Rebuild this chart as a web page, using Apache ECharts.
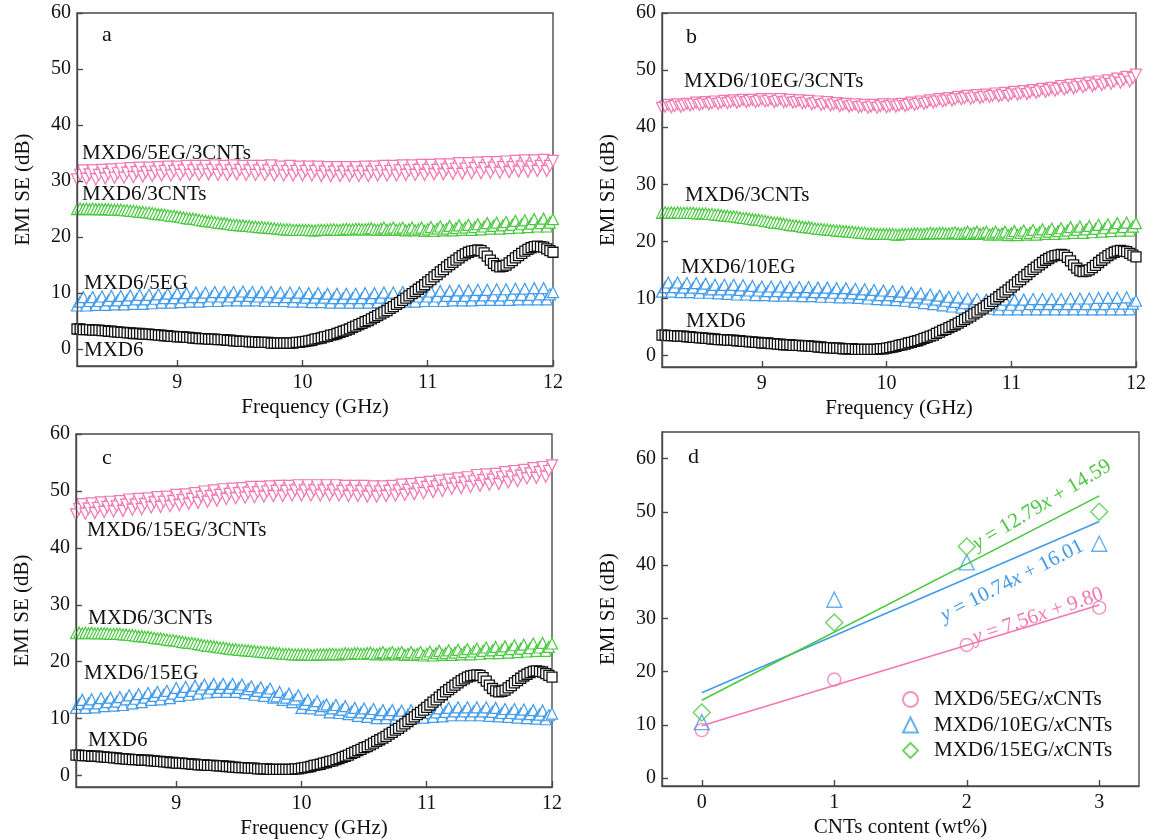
<!DOCTYPE html>
<html>
<head>
    <meta charset="utf-8">
    <style>
        html, body { margin: 0; padding: 0; background: #fff; }
        #chart-panel { width: 1149px; height: 840px; }
    </style>
    <script src="https://cdn.jsdelivr.net/npm/echarts@6/dist/echarts.min.js"></script>
</head>
<body>
<div id="chart-panel"></div>
<script type="text/javascript">
// frequency points (GHz), 8.2 - 12.0, one row = 0.2 GHz
var freq = [
  8.200, 8.225, 8.250, 8.275, 8.300, 8.325, 8.350, 8.375,
  8.400, 8.425, 8.450, 8.475, 8.500, 8.525, 8.550, 8.575,
  8.600, 8.625, 8.650, 8.675, 8.700, 8.725, 8.750, 8.775,
  8.800, 8.825, 8.850, 8.875, 8.900, 8.925, 8.950, 8.975,
  9.000, 9.025, 9.050, 9.075, 9.100, 9.125, 9.150, 9.175,
  9.200, 9.225, 9.250, 9.275, 9.300, 9.325, 9.350, 9.375,
  9.400, 9.425, 9.450, 9.475, 9.500, 9.525, 9.550, 9.575,
  9.600, 9.625, 9.650, 9.675, 9.700, 9.725, 9.750, 9.775,
  9.800, 9.825, 9.850, 9.875, 9.900, 9.925, 9.950, 9.975,
  10.000, 10.025, 10.050, 10.075, 10.100, 10.125, 10.150, 10.175,
  10.200, 10.225, 10.250, 10.275, 10.300, 10.325, 10.350, 10.375,
  10.400, 10.425, 10.450, 10.475, 10.500, 10.525, 10.550, 10.575,
  10.600, 10.625, 10.650, 10.675, 10.700, 10.725, 10.750, 10.775,
  10.800, 10.825, 10.850, 10.875, 10.900, 10.925, 10.950, 10.975,
  11.000, 11.025, 11.050, 11.075, 11.100, 11.125, 11.150, 11.175,
  11.200, 11.225, 11.250, 11.275, 11.300, 11.325, 11.350, 11.375,
  11.400, 11.425, 11.450, 11.475, 11.500, 11.525, 11.550, 11.575,
  11.600, 11.625, 11.650, 11.675, 11.700, 11.725, 11.750, 11.775,
  11.800, 11.825, 11.850, 11.875, 11.900, 11.925, 11.950, 11.975,
  12.000];

// MXD6 (same curve in a, b, c)
var seMXD6 = [
  3.6, 3.6, 3.5, 3.5, 3.5, 3.4, 3.4, 3.4,
  3.3, 3.3, 3.2, 3.2, 3.1, 3.1, 3.0, 3.0,
  2.9, 2.9, 2.8, 2.8, 2.8, 2.7, 2.7, 2.7,
  2.6, 2.6, 2.5, 2.5, 2.4, 2.4, 2.3, 2.3,
  2.2, 2.2, 2.2, 2.1, 2.1, 2.0, 2.0, 1.9,
  1.9, 1.9, 1.8, 1.8, 1.8, 1.7, 1.7, 1.7,
  1.6, 1.6, 1.5, 1.5, 1.4, 1.4, 1.4, 1.3,
  1.3, 1.3, 1.2, 1.2, 1.2, 1.2, 1.1, 1.1,
  1.1, 1.1, 1.1, 1.1, 1.1, 1.1, 1.2, 1.2,
  1.3, 1.4, 1.5, 1.6, 1.8, 1.9, 2.0, 2.2,
  2.3, 2.5, 2.6, 2.8, 3.0, 3.2, 3.4, 3.6,
  3.9, 4.1, 4.4, 4.6, 4.9, 5.1, 5.4, 5.7,
  6.0, 6.3, 6.6, 6.9, 7.3, 7.6, 8.0, 8.3,
  8.7, 9.1, 9.5, 9.9, 10.3, 10.7, 11.1, 11.5,
  12.0, 12.4, 12.9, 13.3, 13.8, 14.2, 14.7, 15.1,
  15.5, 15.9, 16.3, 16.7, 17.0, 17.3, 17.5, 17.6,
  17.7, 17.6, 17.2, 16.6, 15.9, 15.3, 14.9, 14.7,
  14.8, 15.0, 15.4, 15.8, 16.3, 16.7, 17.1, 17.5,
  17.8, 18.1, 18.3, 18.4, 18.3, 18.2, 17.9, 17.6,
  17.3];

// MXD6/3CNTs (same curve in a, b, c)
var se3CNTs = [
  25.0, 25.1, 25.0, 25.1, 25.0, 25.1, 25.0, 25.0,
  25.0, 25.0, 25.0, 24.9, 24.9, 24.9, 24.9, 24.8,
  24.8, 24.7, 24.7, 24.6, 24.5, 24.5, 24.4, 24.4,
  24.3, 24.2, 24.1, 24.1, 24.0, 23.9, 23.8, 23.8,
  23.7, 23.6, 23.5, 23.4, 23.3, 23.3, 23.2, 23.1,
  23.0, 22.9, 22.8, 22.8, 22.7, 22.6, 22.5, 22.5,
  22.4, 22.3, 22.2, 22.2, 22.1, 22.1, 22.0, 22.0,
  21.9, 21.9, 21.8, 21.8, 21.7, 21.7, 21.6, 21.6,
  21.5, 21.5, 21.4, 21.4, 21.4, 21.3, 21.3, 21.3,
  21.3, 21.3, 21.3, 21.2, 21.2, 21.3, 21.3, 21.3,
  21.3, 21.4, 21.4, 21.3, 21.3, 21.4, 21.5, 21.4,
  21.4, 21.5, 21.5, 21.4, 21.4, 21.5, 21.6, 21.4,
  21.3, 21.5, 21.7, 21.3, 21.5, 21.7, 21.3, 21.5,
  21.7, 21.2, 21.4, 21.7, 21.2, 21.4, 21.7, 21.1,
  21.4, 21.8, 21.1, 21.5, 21.9, 21.2, 21.5, 22.0,
  21.2, 21.6, 22.1, 21.3, 21.7, 22.2, 21.3, 21.8,
  22.3, 21.4, 21.9, 22.5, 21.5, 22.0, 22.6, 21.5,
  22.1, 22.7, 21.6, 22.2, 22.9, 21.7, 22.3, 23.0,
  21.8, 22.4, 23.2, 21.9, 22.5, 23.3, 21.9, 22.6,
  23.2];

// panel a
var se5EG = [
  7.8, 8.5, 9.3, 7.8, 8.6, 9.3, 7.9, 8.6,
  9.4, 7.9, 8.7, 9.5, 8.0, 8.7, 9.5, 8.0,
  8.8, 9.6, 8.1, 8.9, 9.7, 8.1, 8.9, 9.7,
  8.2, 9.0, 9.8, 8.3, 9.1, 9.9, 8.3, 9.1,
  10.0, 8.4, 9.2, 10.0, 8.5, 9.3, 10.1, 8.5,
  9.3, 10.1, 8.6, 9.4, 10.2, 8.6, 9.4, 10.2,
  8.7, 9.4, 10.2, 8.7, 9.5, 10.3, 8.7, 9.5,
  10.2, 8.7, 9.4, 10.2, 8.6, 9.4, 10.2, 8.6,
  9.3, 10.1, 8.6, 9.3, 10.1, 8.5, 9.3, 10.1,
  8.5, 9.2, 10.0, 8.4, 9.2, 10.0, 8.4, 9.2,
  9.9, 8.3, 9.1, 9.9, 8.3, 9.1, 9.9, 8.3,
  9.1, 9.9, 8.3, 9.1, 10.0, 8.3, 9.1, 10.0,
  8.4, 9.2, 10.1, 8.4, 9.2, 10.1, 8.4, 9.3,
  10.2, 8.5, 9.3, 10.2, 8.5, 9.4, 10.3, 8.6,
  9.4, 10.3, 8.6, 9.4, 10.4, 8.6, 9.5, 10.4,
  8.7, 9.5, 10.5, 8.7, 9.5, 10.5, 8.7, 9.6,
  10.6, 8.8, 9.6, 10.6, 8.8, 9.6, 10.7, 8.8,
  9.6, 10.7, 8.8, 9.7, 10.8, 8.9, 9.7, 10.8,
  8.9, 9.7, 10.9, 8.9, 9.8, 10.9, 8.9, 9.8,
  10.2];
var se5EG3CNTs = [
  30.3, 31.1, 31.9, 30.4, 31.2, 31.9, 30.3, 31.1,
  32.0, 30.5, 31.3, 32.1, 30.6, 31.4, 32.2, 30.6,
  31.5, 32.3, 30.7, 31.6, 32.4, 30.8, 31.6, 32.4,
  30.9, 31.7, 32.5, 31.0, 31.8, 32.6, 31.0, 31.8,
  32.6, 31.1, 31.9, 32.7, 31.1, 31.9, 32.7, 31.1,
  31.9, 32.7, 31.2, 32.0, 32.8, 31.1, 31.9, 32.7,
  31.1, 31.9, 32.8, 31.2, 32.0, 32.7, 31.1, 31.9,
  32.7, 31.1, 31.9, 32.7, 31.1, 31.9, 32.8, 31.0,
  31.8, 32.6, 31.0, 31.8, 32.7, 31.0, 31.8, 32.6,
  31.0, 31.8, 32.6, 31.0, 31.8, 32.6, 30.9, 31.7,
  32.5, 30.9, 31.7, 32.5, 30.9, 31.7, 32.5, 30.9,
  31.7, 32.5, 30.9, 31.7, 32.6, 30.9, 31.7, 32.6,
  31.0, 31.8, 32.7, 31.0, 31.8, 32.7, 31.0, 31.9,
  32.8, 31.1, 31.9, 32.8, 31.1, 32.0, 32.9, 31.1,
  32.0, 32.9, 31.2, 32.0, 33.0, 31.2, 32.1, 33.0,
  31.3, 32.2, 33.2, 31.3, 32.2, 33.2, 31.4, 32.3,
  33.3, 31.4, 32.3, 33.4, 31.5, 32.4, 33.4, 31.5,
  32.5, 33.5, 31.6, 32.5, 33.6, 31.7, 32.6, 33.7,
  31.7, 32.6, 33.7, 31.8, 32.7, 33.8, 31.8, 32.7,
  33.6];

// panel b
var se10EG = [
  11.2, 12.0, 12.8, 11.2, 12.0, 12.8, 11.1, 11.9,
  12.7, 11.1, 11.9, 12.7, 11.0, 11.8, 12.6, 11.0,
  11.6, 12.4, 10.9, 11.6, 12.4, 10.8, 11.6, 12.4,
  10.7, 11.5, 12.3, 10.7, 11.4, 12.2, 10.6, 11.4,
  12.1, 10.6, 11.3, 12.1, 10.5, 11.3, 12.1, 10.5,
  11.2, 12.0, 10.5, 11.2, 12.0, 10.4, 11.2, 12.0,
  10.4, 11.1, 11.9, 10.3, 11.1, 11.9, 10.3, 11.0,
  11.8, 10.2, 11.0, 11.8, 10.2, 10.9, 11.7, 10.1,
  10.8, 11.6, 10.0, 10.7, 11.5, 9.9, 10.6, 11.4,
  9.8, 10.6, 11.3, 9.7, 10.4, 11.2, 9.6, 10.3,
  11.0, 9.4, 10.2, 10.9, 9.2, 10.0, 10.7, 9.0,
  9.8, 10.5, 8.8, 9.6, 10.3, 8.6, 9.4, 10.2,
  8.4, 9.2, 10.0, 8.3, 9.1, 9.9, 8.2, 9.0,
  9.8, 8.2, 9.0, 9.8, 8.1, 8.9, 9.8, 8.1,
  8.9, 9.8, 8.1, 8.9, 9.8, 8.1, 9.0, 9.9,
  8.1, 9.0, 9.9, 8.1, 9.0, 9.9, 8.1, 9.0,
  9.9, 8.1, 9.0, 10.0, 8.1, 9.0, 10.0, 8.1,
  9.0, 10.0, 8.1, 9.0, 10.1, 8.1, 9.0, 10.1,
  8.1, 9.1, 10.1, 8.1, 9.1, 10.2, 8.1, 9.1,
  9.6];
var se10EG3CNTs = [
  43.4, 43.6, 43.9, 43.5, 43.7, 44.0, 43.6, 43.8,
  44.1, 43.8, 44.0, 44.3, 43.9, 44.1, 44.4, 44.0,
  44.2, 44.5, 44.1, 44.3, 44.6, 44.2, 44.4, 44.7,
  44.3, 44.5, 44.8, 44.4, 44.6, 44.8, 44.4, 44.6,
  44.9, 44.5, 44.6, 44.9, 44.4, 44.6, 44.9, 44.4,
  44.5, 44.8, 44.3, 44.4, 44.7, 44.2, 44.3, 44.6,
  44.0, 44.2, 44.5, 43.9, 44.1, 44.4, 43.8, 44.0,
  44.2, 43.7, 43.9, 44.1, 43.6, 43.8, 44.0, 43.5,
  43.6, 43.9, 43.4, 43.6, 43.9, 43.4, 43.7, 44.0,
  43.5, 43.7, 44.0, 43.6, 43.8, 44.1, 43.7, 43.9,
  44.3, 43.9, 44.1, 44.5, 44.1, 44.3, 44.7, 44.3,
  44.5, 44.9, 44.5, 44.7, 45.1, 44.7, 44.9, 45.3,
  44.9, 45.1, 45.5, 45.0, 45.2, 45.6, 45.1, 45.3,
  45.7, 45.3, 45.5, 45.9, 45.4, 45.6, 46.0, 45.5,
  45.8, 46.2, 45.7, 45.9, 46.3, 45.8, 46.1, 46.5,
  46.0, 46.3, 46.7, 46.2, 46.5, 46.9, 46.4, 46.7,
  47.2, 46.6, 46.9, 47.4, 46.8, 47.1, 47.6, 47.0,
  47.3, 47.8, 47.2, 47.5, 48.0, 47.4, 47.7, 48.2,
  47.6, 48.0, 48.5, 47.8, 48.3, 48.8, 48.0, 48.6,
  49.2];

// panel c
var se15EG = [
  11.9, 12.6, 13.3, 11.9, 12.7, 13.4, 12.0, 12.7,
  13.6, 12.2, 12.9, 13.7, 12.3, 13.0, 13.8, 12.4,
  13.4, 14.1, 12.7, 13.5, 14.3, 12.9, 13.7, 14.5,
  13.3, 14.0, 14.7, 13.4, 14.2, 14.9, 13.6, 14.4,
  15.4, 14.0, 14.7, 15.6, 14.2, 14.9, 15.8, 14.4,
  15.3, 16.0, 14.6, 15.3, 16.1, 14.7, 15.4, 16.1,
  14.7, 15.4, 16.1, 14.7, 15.4, 16.0, 14.5, 15.2,
  15.7, 14.2, 14.9, 15.5, 14.0, 14.7, 15.3, 13.7,
  13.9, 14.7, 13.3, 13.7, 14.4, 12.9, 13.4, 14.1,
  11.9, 12.6, 13.3, 11.8, 12.4, 13.1, 11.6, 12.2,
  12.5, 11.1, 11.8, 12.4, 11.0, 11.6, 12.2, 10.8,
  11.2, 11.9, 10.5, 11.1, 11.8, 10.3, 11.0, 11.7,
  10.1, 10.8, 11.5, 10.1, 10.8, 11.5, 10.0, 10.7,
  11.4, 10.0, 10.7, 11.5, 10.1, 10.8, 11.6, 10.2,
  11.0, 11.7, 10.3, 11.1, 11.8, 10.4, 11.2, 11.9,
  10.6, 11.3, 12.0, 10.6, 11.3, 12.0, 10.6, 11.3,
  12.0, 10.6, 11.3, 12.0, 10.5, 11.2, 11.9, 10.4,
  11.0, 11.7, 10.3, 11.0, 11.7, 10.2, 10.9, 11.6,
  10.1, 10.8, 11.5, 10.0, 10.7, 11.4, 9.9, 10.6,
  10.9];
var se15EG3CNTs = [
  45.9, 46.8, 47.7, 46.0, 46.9, 47.8, 46.1, 47.0,
  48.0, 46.3, 47.2, 48.1, 46.4, 47.3, 48.2, 46.5,
  47.6, 48.5, 46.7, 47.6, 48.6, 46.8, 47.7, 48.7,
  47.1, 48.0, 48.9, 47.2, 48.1, 49.0, 47.3, 48.2,
  49.3, 47.5, 48.4, 49.4, 47.7, 48.6, 49.6, 47.9,
  49.0, 49.9, 48.1, 49.1, 50.1, 48.3, 49.3, 50.3,
  48.6, 49.5, 50.4, 48.7, 49.6, 50.5, 48.8, 49.7,
  50.7, 48.9, 49.8, 50.7, 49.0, 49.9, 50.8, 49.1,
  50.0, 50.9, 49.1, 50.0, 50.9, 49.2, 50.1, 51.0,
  49.2, 50.1, 51.0, 49.2, 50.1, 51.0, 49.2, 50.1,
  51.0, 49.2, 50.1, 51.0, 49.2, 50.0, 50.9, 49.1,
  50.0, 50.9, 49.1, 50.0, 50.9, 49.0, 49.9, 50.8,
  49.0, 49.9, 50.8, 49.1, 50.0, 50.9, 49.2, 50.1,
  51.1, 49.3, 50.2, 51.2, 49.4, 50.4, 51.4, 49.6,
  50.7, 51.6, 49.8, 50.8, 51.8, 50.0, 51.0, 52.0,
  50.4, 51.3, 52.2, 50.5, 51.5, 52.4, 50.7, 51.7,
  52.8, 50.9, 51.9, 52.9, 51.1, 52.0, 53.0, 51.2,
  52.4, 53.3, 51.5, 52.5, 53.5, 51.7, 52.7, 53.7,
  52.2, 53.1, 54.0, 52.3, 53.3, 54.2, 52.5, 53.5,
  54.5];

// panel d
var cntContent = [0, 1, 2, 3];
var d5EG = [9.0, 18.5, 25.0, 32.0];
var d10EG = [10.5, 33.5, 40.5, 44.0];
var d15EG = [12.3, 29.2, 43.5, 50.0];
var fitX = [0, 3];
var fit5EG = [9.8, 32.5];
var fit10EG = [16.0, 48.2];
var fit15EG = [14.6, 53.0];

var freqTicks = [9, 10, 11, 12];
var seTicks = [0, 10, 20, 30, 40, 50, 60];
var cntTicks = [0, 1, 2, 3];

var PINK = '#f277b0', BLUE = '#419bea', GREEN = '#4bc841', BLACK = '#111';
var FONT = 'Liberation Serif';
var FRAME = '#4a4a4a';

function pairs(xs, ys) {
  return xs.map(function (x, i) { return [x, ys[i]]; });
}

function curve(name, idx, ys, symbol, color, rot, size, bw) {
  return {
    name: name, type: 'scatter', xAxisIndex: idx, yAxisIndex: idx,
    data: pairs(freq, ys), symbol: symbol, symbolSize: size || 11, symbolRotate: rot || 0,
    itemStyle: { color: '#fff', borderColor: color, borderWidth: bw || 1.2, opacity: 1 },
    emphasis: { disabled: true }, clip: false, silent: true, z: 3
  };
}

function grid(left, top, width, height) {
  return { left: left, top: top, width: width, height: height, show: true,
    borderColor: FRAME, borderWidth: 1.4, backgroundColor: 'transparent' };
}

function xAxis(idx, min, max, ticks, name) {
  return {
    type: 'value', gridIndex: idx, min: min, max: max, position: 'bottom',
    name: name, nameLocation: 'middle', nameGap: 31,
    nameTextStyle: { fontFamily: FONT, fontSize: 21, color: '#111' },
    axisLine: { show: true, onZero: false, lineStyle: { color: FRAME, width: 1.4 } },
    splitLine: { show: false }, z: 5,
    axisTick: { show: true, inside: true, length: 6, customValues: ticks, lineStyle: { color: FRAME, width: 1.4 } },
    axisLabel: { customValues: ticks, fontFamily: FONT, fontSize: 20, color: '#111', margin: 7 }
  };
}

function yAxis(idx, min, max, ticks) {
  return {
    type: 'value', gridIndex: idx, min: min, max: max, position: 'left',
    name: 'EMI SE (dB)', nameLocation: 'middle', nameGap: 43, nameRotate: 90,
    nameTextStyle: { fontFamily: FONT, fontSize: 21, color: '#111' },
    axisLine: { show: true, onZero: false, lineStyle: { color: FRAME, width: 1.4 } },
    splitLine: { show: false }, z: 5,
    axisTick: { show: true, inside: true, length: 6, customValues: ticks, lineStyle: { color: FRAME, width: 1.4 } },
    axisLabel: { customValues: ticks, fontFamily: FONT, fontSize: 20, color: '#111', margin: 6 }
  };
}

function label(text, x, y, size) {
  return {
    type: 'text', x: x, y: y, silent: true, z: 10,
    style: { text: text, fontFamily: FONT, fontSize: size || 21, fill: '#111',
      textAlign: 'left', textVerticalAlign: 'middle' }
  };
}

function equation(text, x, y, deg, color) {
  return {
    type: 'text', x: x, y: y, rotation: deg * Math.PI / 180, silent: true, z: 10,
    style: { text: text, fontFamily: FONT, fontSize: 21, fill: color,
      textAlign: 'center', textVerticalAlign: 'middle',
      rich: { i: { fontStyle: 'italic', fontFamily: FONT, fontSize: 21, fill: color } } }
  };
}

var myChart = echarts.init(document.getElementById('chart-panel'));

var option = {
  animation: false,
  backgroundColor: '#fff',
  grid: [
    grid(77, 13, 476, 353),
    grid(662, 13, 477, 354),
    grid(76, 434, 476, 354),
    grid(662, 432, 477, 354)
  ],
  xAxis: [
    xAxis(0, 8.2, 12, freqTicks, 'Frequency (GHz)'),
    xAxis(1, 8.2, 12, freqTicks, 'Frequency (GHz)'),
    xAxis(2, 8.2, 12, freqTicks, 'Frequency (GHz)'),
    xAxis(3, -0.3, 3.3, cntTicks, 'CNTs content (wt%)')
  ],
  yAxis: [
    yAxis(0, -3, 60, seTicks),
    yAxis(1, -2, 60, seTicks),
    yAxis(2, -2, 60, seTicks),
    yAxis(3, -1.5, 65, seTicks)
  ],
  legend: {
    data: ['MXD6/5EG/xCNTs', 'MXD6/10EG/xCNTs', 'MXD6/15EG/xCNTs'],
    orient: 'vertical', left: 897, top: 684, itemWidth: 15, itemHeight: 15, itemGap: 4.5,
    selectedMode: false,
    formatter: function (name) { return name.replace('/x', '/{i|x}'); },
    textStyle: { fontFamily: FONT, fontSize: 21, color: '#111', padding: [0, 0, 0, 11],
      rich: { i: { fontStyle: 'italic', fontFamily: FONT, fontSize: 21, color: '#111' } } }
  },
  series: [
    // a
    curve('MXD6/5EG/3CNTs', 0, se5EG3CNTs, 'triangle', PINK, 180),
    curve('MXD6/3CNTs', 0, se3CNTs, 'triangle', GREEN),
    curve('MXD6/5EG', 0, se5EG, 'triangle', BLUE),
    curve('MXD6', 0, seMXD6, 'rect', BLACK, 0, 10, 1.3),
    // b
    curve('MXD6/10EG/3CNTs', 1, se10EG3CNTs, 'triangle', PINK, 180),
    curve('MXD6/3CNTs', 1, se3CNTs, 'triangle', GREEN),
    curve('MXD6/10EG', 1, se10EG, 'triangle', BLUE),
    curve('MXD6', 1, seMXD6, 'rect', BLACK, 0, 10, 1.3),
    // c
    curve('MXD6/15EG/3CNTs', 2, se15EG3CNTs, 'triangle', PINK, 180),
    curve('MXD6/3CNTs', 2, se3CNTs, 'triangle', GREEN),
    curve('MXD6/15EG', 2, se15EG, 'triangle', BLUE),
    curve('MXD6', 2, seMXD6, 'rect', BLACK, 0, 10, 1.3),
    // d: fitted lines
    { type: 'line', xAxisIndex: 3, yAxisIndex: 3, data: pairs(fitX, fit5EG), showSymbol: false, silent: true,
      lineStyle: { color: PINK, width: 1.6 } },
    { type: 'line', xAxisIndex: 3, yAxisIndex: 3, data: pairs(fitX, fit10EG), showSymbol: false, silent: true,
      lineStyle: { color: BLUE, width: 1.6 } },
    { type: 'line', xAxisIndex: 3, yAxisIndex: 3, data: pairs(fitX, fit15EG), showSymbol: false, silent: true,
      lineStyle: { color: GREEN, width: 1.6 } },
    // d: points
    { name: 'MXD6/5EG/xCNTs', type: 'scatter', xAxisIndex: 3, yAxisIndex: 3, data: pairs(cntContent, d5EG),
      symbol: 'circle', symbolSize: 13, itemStyle: { color: '#fff', borderColor: PINK, borderWidth: 1.4 } },
    { name: 'MXD6/10EG/xCNTs', type: 'scatter', xAxisIndex: 3, yAxisIndex: 3, data: pairs(cntContent, d10EG),
      symbol: 'triangle', symbolSize: 15, itemStyle: { color: 'rgba(255,255,255,0)', borderColor: BLUE, borderWidth: 1.4 } },
    { name: 'MXD6/15EG/xCNTs', type: 'scatter', xAxisIndex: 3, yAxisIndex: 3, data: pairs(cntContent, d15EG),
      symbol: 'diamond', symbolSize: 17, itemStyle: { color: 'rgba(255,255,255,0)', borderColor: GREEN, borderWidth: 1.4 } }
  ],
  graphic: [
    label('a', 102, 35, 22),
    label('MXD6/5EG/3CNTs', 82, 153),
    label('MXD6/3CNTs', 82, 194),
    label('MXD6/5EG', 84, 283),
    label('MXD6', 84, 350),

    label('b', 686, 37, 22),
    label('MXD6/10EG/3CNTs', 684, 81),
    label('MXD6/3CNTs', 685, 195),
    label('MXD6/10EG', 681, 267),
    label('MXD6', 686, 321),

    label('c', 102, 458, 22),
    label('MXD6/15EG/3CNTs', 87, 530),
    label('MXD6/3CNTs', 88, 618),
    label('MXD6/15EG', 84, 673),
    label('MXD6', 88, 740),

    label('d', 688, 457, 22),
    equation('{i|y} = 7.56{i|x} + 9.80', 1038, 616, 19, PINK),
    equation('{i|y} = 10.74{i|x} + 16.01', 1012, 581, 27, BLUE),
    equation('{i|y} = 12.79{i|x} + 14.59', 1042, 505, 31, GREEN)
  ]
};

myChart.setOption(option);
</script>
</body>
</html>
